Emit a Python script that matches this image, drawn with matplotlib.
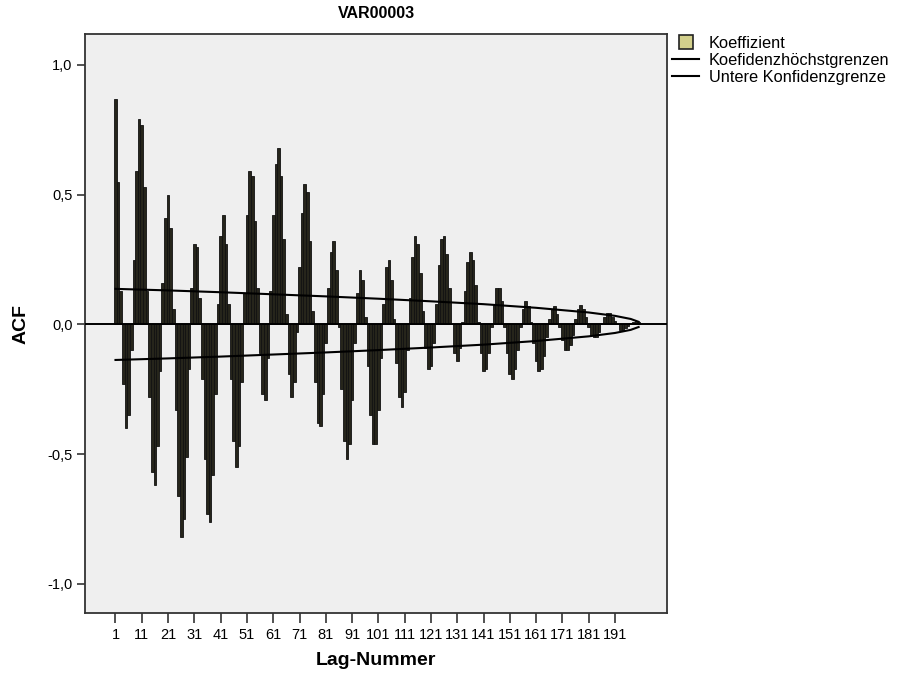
import matplotlib
matplotlib.use('Agg')
import matplotlib.pyplot as plt
from matplotlib.lines import Line2D

plt.rcParams['font.family'] = ['Liberation Sans', 'DejaVu Sans']

# ACF-Werte, Lag 1..200
lags = list(range(1, 201))
acf = [
    0.87, 0.55, 0.13, -0.23, -0.40, -0.35, -0.10, 0.25, 0.59, 0.79,
    0.77, 0.53, 0.13, -0.28, -0.57, -0.62, -0.47, -0.18, 0.16, 0.41,
    0.50, 0.37, 0.06, -0.33, -0.66, -0.82, -0.75, -0.51, -0.17, 0.14,
    0.31, 0.30, 0.10, -0.21, -0.52, -0.73, -0.76, -0.58, -0.27, 0.08,
    0.34, 0.42, 0.31, 0.08, -0.21, -0.45, -0.55, -0.47, -0.22, 0.12,
    0.42, 0.59, 0.57, 0.40, 0.14, -0.11, -0.27, -0.29, -0.13, 0.13,
    0.42, 0.62, 0.68, 0.57, 0.33, 0.04, -0.19, -0.28, -0.22, -0.03,
    0.22, 0.43, 0.54, 0.51, 0.32, 0.05, -0.22, -0.38, -0.39, -0.27,
    -0.07, 0.14, 0.28, 0.32, 0.21, -0.01, -0.25, -0.45, -0.52, -0.46,
    -0.29, -0.07, 0.12, 0.21, 0.17, 0.03, -0.16, -0.35, -0.46, -0.46,
    -0.33, -0.13, 0.08, 0.22, 0.25, 0.17, 0.02, -0.15, -0.28, -0.32,
    -0.26, -0.10, 0.10, 0.26, 0.34, 0.31, 0.20, 0.05, -0.09, -0.17,
    -0.16, -0.07, 0.08, 0.23, 0.33, 0.34, 0.27, 0.14, 0.00, -0.11,
    -0.14, -0.09, 0.01, 0.13, 0.24, 0.28, 0.25, 0.15, 0.01, -0.11,
    -0.18, -0.17, -0.11, -0.01, 0.08, 0.14, 0.14, 0.09, -0.01, -0.11,
    -0.19, -0.21, -0.17, -0.10, -0.01, 0.06, 0.09, 0.07, 0.01, -0.07,
    -0.14, -0.18, -0.17, -0.12, -0.05, 0.02, 0.06, 0.07, 0.04, -0.01,
    -0.06, -0.10, -0.10, -0.08, -0.04, 0.02, 0.06, 0.075, 0.06, 0.03,
    -0.01, -0.04, -0.05, -0.05, -0.03, 0.00, 0.03, 0.045, 0.045, 0.03,
    0.015, 0.00, -0.02, -0.02, -0.015, -0.005, 0.005, 0.01, 0.015, 0.01,
]

# Konfidenzgrenzen
conf_lags = [1, 21, 41, 61, 81, 101, 121, 141, 161, 181, 191, 197, 200]
conf_upper = [0.137, 0.131, 0.124, 0.116, 0.108, 0.099, 0.089, 0.078, 0.064, 0.046, 0.033, 0.021, 0.010]
conf_lower = [-0.137, -0.131, -0.124, -0.116, -0.108, -0.099, -0.089, -0.078, -0.064, -0.046, -0.033, -0.021, -0.010]

xtick_lags = list(range(1, 192, 10))
yticks = [-1.0, -0.5, 0.0, 0.5, 1.0]
ytick_labels = ['-1,0', '-0,5', '0,0', '0,5', '1,0']

legend_color = '#d3d08c'
bar_fill = '#26251b'   # im Original wirken die schmalen Balken fast schwarz

fig = plt.figure(figsize=(8.99, 6.78), dpi=100)
ax = fig.add_axes([85/899, 65/678, 582/899, 579/678])
ax.set_facecolor('#efefef')

ax.bar(lags, acf, width=1.0, color=bar_fill, edgecolor='#111111', linewidth=0.6, zorder=2)
ax.axhline(0, color='black', lw=1.4, zorder=3)
ax.plot(conf_lags, conf_upper, color='black', lw=1.5, zorder=4)
ax.plot(conf_lags, conf_lower, color='black', lw=1.5, zorder=4)

ax.set_xlim(-10.6, 210.8)
ax.set_ylim(-1.112, 1.119)

ax.set_xticks(xtick_lags)
ax.set_xticklabels([str(x) for x in xtick_lags], fontsize=10.5)
ax.set_yticks(yticks)
ax.set_yticklabels(ytick_labels, fontsize=10.5)
ax.tick_params(axis='x', length=7, width=1.2, color='#333333', pad=4)
ax.tick_params(axis='y', length=6, width=1.2, color='#333333', pad=3)

for s in ax.spines.values():
    s.set_color('#333333')
    s.set_linewidth(1.3)

ax.set_xlabel('Lag-Nummer', fontsize=14, fontweight='bold')
ax.xaxis.set_label_coords(0.5, -0.068)
ax.set_ylabel('ACF', fontsize=14, fontweight='bold')
ax.yaxis.set_label_coords(-0.095, 0.5)

fig.text(376/899, 1 - 13/678, 'VAR00003', fontsize=11.5, fontweight='bold', ha='center', va='center')

handles = [
    Line2D([], [], marker='s', linestyle='none', markersize=10, markerfacecolor=legend_color,
           markeredgecolor='#222222', markeredgewidth=1.2),
    Line2D([], [], color='black', lw=1.5),
    Line2D([], [], color='black', lw=1.5),
]
labels = ['Koeffizient', 'Koefidenzhöchstgrenzen', 'Untere Konfidenzgrenze']
fig.legend(handles, labels, loc='upper left', bbox_to_anchor=(672/899, 1 - 36/678),
           frameon=False, fontsize=11.8, handlelength=1.65, handletextpad=0.6,
           labelspacing=0.12, borderpad=0, borderaxespad=0)

plt.savefig('out.png', dpi=100)
